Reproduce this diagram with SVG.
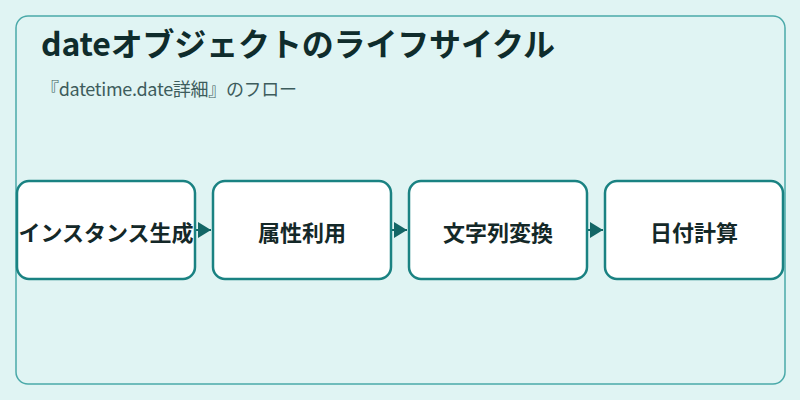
<svg xmlns="http://www.w3.org/2000/svg" width="800" height="400" viewBox="0 0 800 400">
<style>
.title{font-family:"Noto Sans CJK JP","Noto Sans",sans-serif;font-weight:700;font-size:32px;fill:#0f2c2c}
.sub{font-family:"Noto Sans CJK JP","Noto Sans",sans-serif;font-size:18px;fill:#3d5c5c}
.node rect{fill:#ffffff;stroke:#1a8282;stroke-width:2.5}
.node text{font-family:"Noto Sans CJK JP","Noto Sans",sans-serif;font-weight:700;font-size:22px;fill:#142828;text-anchor:middle;dominant-baseline:central}
.edge{stroke:#136666;stroke-width:2;fill:none}
</style>
<defs>
<marker id="ah" viewBox="0 0 13 16" refX="13" refY="8" markerWidth="13" markerHeight="16" markerUnits="userSpaceOnUse" orient="auto">
<path d="M0,0 L13,8 L0,16 Z" fill="#136666"/>
</marker>
</defs>
<rect width="800" height="400" fill="#e0f4f3"/>
<rect x="16" y="16" width="769" height="368" rx="12" fill="#e0f4f3" stroke="#4aa9a9" stroke-width="1.5"/>
<text class="title" x="41" y="56" textLength="514" lengthAdjust="spacing">dateオブジェクトのライフサイクル</text>
<text class="sub" x="41" y="96" textLength="256" lengthAdjust="spacing">『datetime.date詳細』のフロー</text>
<g id="connectors">
<line class="edge" x1="196" y1="230" x2="211" y2="230" marker-end="url(#ah)"/>
<line class="edge" x1="392" y1="230" x2="407" y2="230" marker-end="url(#ah)"/>
<line class="edge" x1="588" y1="230" x2="603" y2="230" marker-end="url(#ah)"/>
</g>
<g id="node1" class="node"><rect x="17" y="181" width="178" height="98" rx="12"/><text x="106" y="231">インスタンス生成</text></g>
<g id="node2" class="node"><rect x="213" y="181" width="178" height="98" rx="12"/><text x="302" y="231">属性利用</text></g>
<g id="node3" class="node"><rect x="409" y="181" width="178" height="98" rx="12"/><text x="498" y="231">文字列変換</text></g>
<g id="node4" class="node"><rect x="605" y="181" width="178" height="98" rx="12"/><text x="694" y="231">日付計算</text></g>
</svg>
